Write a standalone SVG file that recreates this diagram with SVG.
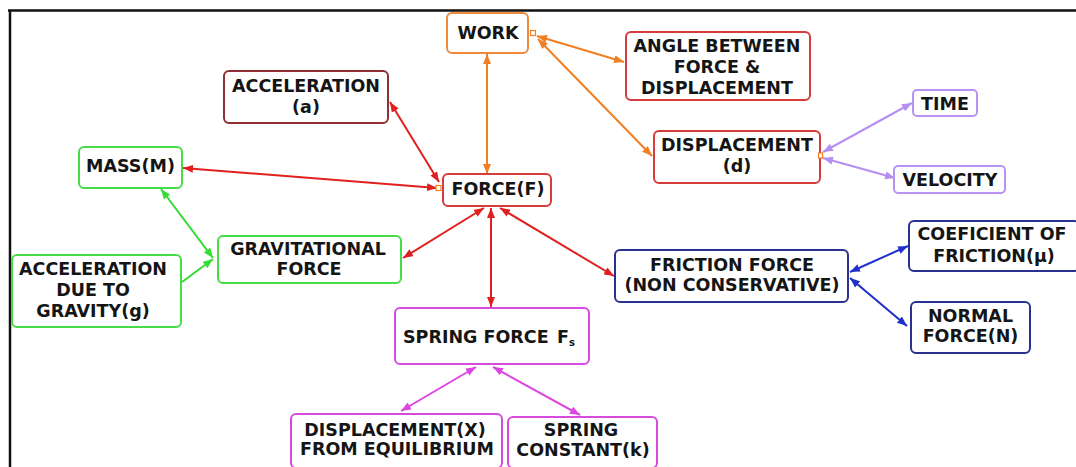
<svg xmlns="http://www.w3.org/2000/svg" width="1076" height="467" viewBox="0 0 1076 467">
<style>
.n rect{fill:#fff;stroke-width:2}
.n text{font-family:"DejaVu Sans",Verdana,sans-serif;font-weight:bold;font-size:17.5px;fill:#151515;text-anchor:middle}
.or{stroke:#f08a3a}.rd{stroke:#d63c3c}.dr{stroke:#8e2f33}.gr{stroke:#46dc46}.nv{stroke:#2a3190}.lv{stroke:#b993f2}.mg{stroke:#d74ade}
.c line{stroke-width:2;fill:none}
</style>
<defs>
<marker id="aO" viewBox="0 0 10 8" refX="10" refY="4" markerWidth="10" markerHeight="8" markerUnits="userSpaceOnUse" orient="auto-start-reverse"><path d="M0,0L10,4L0,8z" fill="#f07f22"/></marker>
<marker id="aR" viewBox="0 0 10 8" refX="10" refY="4" markerWidth="10" markerHeight="8" markerUnits="userSpaceOnUse" orient="auto-start-reverse"><path d="M0,0L10,4L0,8z" fill="#e0201f"/></marker>
<marker id="aG" viewBox="0 0 10 8" refX="10" refY="4" markerWidth="10" markerHeight="8" markerUnits="userSpaceOnUse" orient="auto-start-reverse"><path d="M0,0L10,4L0,8z" fill="#33dd33"/></marker>
<marker id="aL" viewBox="0 0 10 8" refX="10" refY="4" markerWidth="10" markerHeight="8" markerUnits="userSpaceOnUse" orient="auto-start-reverse"><path d="M0,0L10,4L0,8z" fill="#b58ff2"/></marker>
<marker id="aB" viewBox="0 0 10 8" refX="10" refY="4" markerWidth="10" markerHeight="8" markerUnits="userSpaceOnUse" orient="auto-start-reverse"><path d="M0,0L10,4L0,8z" fill="#1f30cc"/></marker>
<marker id="aM" viewBox="0 0 10 8" refX="10" refY="4" markerWidth="10" markerHeight="8" markerUnits="userSpaceOnUse" orient="auto-start-reverse"><path d="M0,0L10,4L0,8z" fill="#dc46e0"/></marker>
</defs>
<rect width="1076" height="467" fill="#fff"/>
<g id="frame" stroke="#111" stroke-width="2.5">
<line x1="8" y1="10.5" x2="1076" y2="10.5"/>
<line x1="10" y1="10" x2="10" y2="467"/>
</g>
<g id="connectors" class="c">
<line x1="487" y1="54" x2="487" y2="174" stroke="#f07f22" marker-start="url(#aO)" marker-end="url(#aO)"/>
<line x1="537" y1="36" x2="624" y2="62" stroke="#f07f22" marker-start="url(#aO)" marker-end="url(#aO)"/>
<line x1="538" y1="39" x2="652" y2="156" stroke="#f07f22" marker-start="url(#aO)" marker-end="url(#aO)"/>
<line x1="390" y1="102" x2="439" y2="182" stroke="#e0201f" marker-start="url(#aR)" marker-end="url(#aR)"/>
<line x1="183" y1="168" x2="437" y2="188" stroke="#e0201f" marker-start="url(#aR)" marker-end="url(#aR)"/>
<line x1="403" y1="258" x2="484" y2="208" stroke="#e0201f" marker-start="url(#aR)" marker-end="url(#aR)"/>
<line x1="491" y1="208" x2="491" y2="307" stroke="#e0201f" marker-start="url(#aR)" marker-end="url(#aR)"/>
<line x1="500" y1="208" x2="614" y2="276" stroke="#e0201f" marker-start="url(#aR)" marker-end="url(#aR)"/>
<line x1="161" y1="189" x2="213" y2="258" stroke="#33dd33" marker-start="url(#aG)" marker-end="url(#aG)"/>
<line x1="182" y1="282" x2="213" y2="259" stroke="#33dd33" marker-end="url(#aG)"/>
<line x1="823" y1="152" x2="912" y2="103" stroke="#b58ff2" marker-start="url(#aL)" marker-end="url(#aL)"/>
<line x1="823" y1="158" x2="895" y2="178" stroke="#b58ff2" marker-start="url(#aL)" marker-end="url(#aL)"/>
<line x1="850" y1="272" x2="908" y2="246" stroke="#1f30cc" marker-start="url(#aB)" marker-end="url(#aB)"/>
<line x1="850" y1="278" x2="907" y2="326" stroke="#1f30cc" marker-start="url(#aB)" marker-end="url(#aB)"/>
<line x1="476" y1="367" x2="401" y2="411" stroke="#dc46e0" marker-start="url(#aM)" marker-end="url(#aM)"/>
<line x1="493" y1="367" x2="580" y2="415" stroke="#dc46e0" marker-start="url(#aM)" marker-end="url(#aM)"/>
</g>
<g id="work" class="n"><rect class="or" x="447" y="13" width="81" height="40" rx="5"/><text x="488" y="39">WORK</text></g>
<g id="angle" class="n"><rect class="rd" x="626" y="32" width="184" height="68" rx="5"/><text x="717" y="52">ANGLE BETWEEN</text><text x="717" y="73">FORCE &amp;</text><text x="717" y="94">DISPLACEMENT</text></g>
<g id="displacement" class="n"><rect class="rd" x="654" y="131" width="166" height="52" rx="5"/><text x="737" y="151">DISPLACEMENT</text><text x="737" y="172">(d)</text></g>
<g id="time" class="n"><rect class="lv" x="913" y="90" width="64" height="26" rx="4"/><text x="945" y="110">TIME</text></g>
<g id="velocity" class="n"><rect class="lv" x="894" y="166" width="111" height="27" rx="4"/><text x="950" y="186">VELOCITY</text></g>
<g id="acceleration" class="n"><rect class="dr" x="224" y="71" width="164" height="52" rx="5"/><text x="306" y="92">ACCELERATION</text><text x="306" y="113">(a)</text></g>
<g id="mass" class="n"><rect class="gr" x="79" y="147" width="103" height="41" rx="5"/><text x="130.5" y="172">MASS(M)</text></g>
<g id="force" class="n"><rect class="rd" x="443" y="174" width="108" height="32" rx="5"/><text x="498" y="195">FORCE(F)</text></g>
<g id="gravitational" class="n"><rect class="gr" x="218" y="236" width="183" height="47" rx="5"/><text x="308" y="255">GRAVITATIONAL</text><text x="309" y="275">FORCE</text></g>
<g id="accel-gravity" class="n"><rect class="gr" x="12" y="255" width="169" height="72" rx="5"/><text x="93" y="275">ACCELERATION</text><text x="93" y="296">DUE TO</text><text x="93" y="317">GRAVITY(g)</text></g>
<g id="friction" class="n"><rect class="nv" x="615" y="250" width="233" height="52" rx="5"/><text x="732" y="271">FRICTION FORCE</text><text x="732" y="291">(NON CONSERVATIVE)</text></g>
<g id="coefficient" class="n"><rect class="nv" x="909" y="221" width="170" height="50" rx="5"/><text x="992" y="240">COEFICIENT OF</text><text x="994" y="262">FRICTION(μ)</text></g>
<g id="normal" class="n"><rect class="nv" x="911" y="302" width="119" height="51" rx="5"/><text x="970.5" y="322">NORMAL</text><text x="970.5" y="342">FORCE(N)</text></g>
<g id="spring" class="n"><rect class="mg" x="395" y="308" width="194" height="56" rx="5"/><text x="403" y="343" style="text-anchor:start">SPRING FORCE<tspan x="557">F</tspan><tspan font-size="10" dy="3">s</tspan></text></g>
<g id="displacement-x" class="n"><rect class="mg" x="291" y="414" width="211" height="54" rx="5"/><text x="395" y="436">DISPLACEMENT(X)</text><text x="397" y="455">FROM EQUILIBRIUM</text></g>
<g id="spring-constant" class="n"><rect class="mg" x="508" y="417" width="149" height="51" rx="5"/><text x="581" y="436">SPRING</text><text x="583" y="456">CONSTANT(k)</text></g>
<g id="anchors" fill="#fff" stroke="#f07f22" stroke-width="1.2">
<rect x="530.5" y="30.5" width="5" height="5"/>
<rect x="436" y="185.5" width="5" height="5"/>
<rect x="818.5" y="153" width="4" height="5"/>
</g>
</svg>
